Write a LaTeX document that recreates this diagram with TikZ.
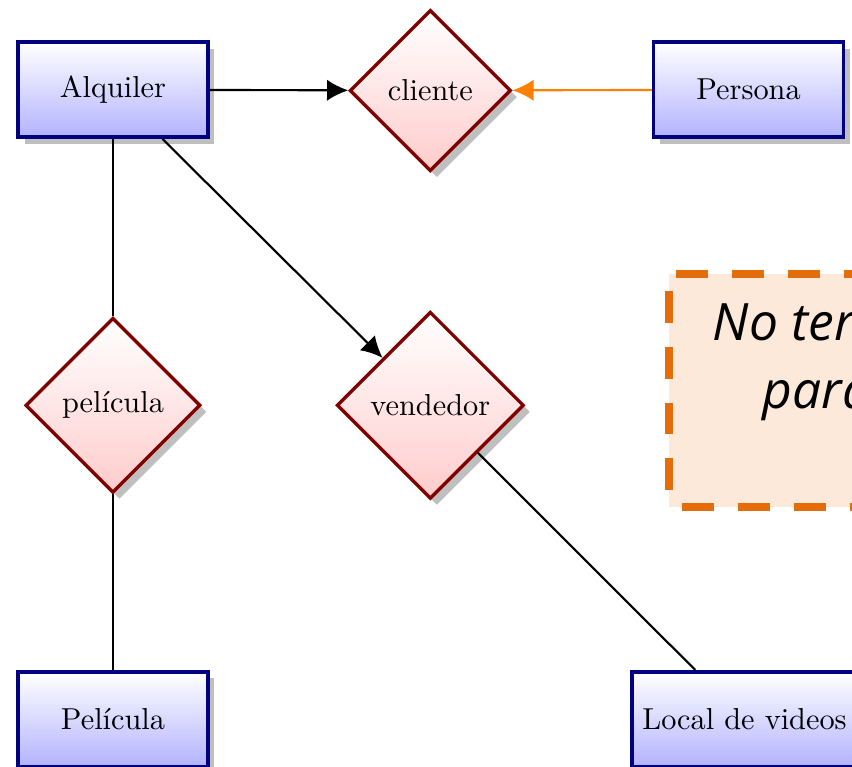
\documentclass[tikz,border=0pt]{standalone}
\usepackage{fontspec}
\newfontfamily\notefont{Open Sans}
\usetikzlibrary{shapes.geometric,shadows,positioning,arrows.meta}
\definecolor{noteline}{RGB}{228,108,10}
\definecolor{notefill}{RGB}{252,233,218}

\begin{document}
\begin{tikzpicture}[
    entity/.style={rectangle, draw=blue!50!black, line width=1.2pt, top color=white, bottom color=blue!30, drop shadow, minimum width=2.2cm, minimum height=1.1cm},
    relation/.style={diamond, draw=red!50!black, line width=1.1pt, top color=white, bottom color=red!20, drop shadow, inner sep=3.8pt, minimum size=1.87cm},
    link/.style={line width=0.7pt},
    notebox/.style={rectangle, fill=notefill, outer sep=0pt},
    noteborder/.style={draw=noteline, line width=2.6pt, dash pattern=on 10.5pt off 7.9pt, dash phase=12.8pt},
    notetext/.style={align=center, font=\notefont\itshape\fontsize{17}{22.4}\selectfont},
    >={Latex[length=7pt,width=7pt]}]
  \useasboundingbox (0,0) rectangle (9.88,-8.89);
  \clip (0,0) rectangle (9.88,-8.89);

  \node[entity] (alquiler) at (1.31,-1.04) {Alquiler};
  \node[relation] (cliente) at (4.99,-1.05) {cliente};
  \node[entity] (persona) at (8.68,-1.04) {Persona};
  \node[relation] (pelrel) at (1.31,-4.70) {película};
  \node[relation] (vendedor) at (4.99,-4.70) {vendedor};
  \node[entity] (pelicula) at (1.31,-8.34) {Película};
  \node[entity, anchor=west] (local) at (7.31,-8.34) {Local de videos};

  % nota
  \node[notebox, anchor=north west, minimum width=4.45cm, minimum height=2.7cm] (note) at (7.76,-3.18) {};
  \draw[noteborder] (note.south west) -- (note.north west) -- (note.north east) -- (note.south east) -- cycle;
  \node[notetext, below=0.19cm of note.north, xshift=0.12cm] (notetxt) {No terminado\\para hoy.};

  \draw[link,->] (alquiler) -- (cliente);
  \draw[link,->,orange] (persona) -- (cliente);
  \draw[link,->] (alquiler) -- (vendedor);
  \draw[link] (alquiler) -- (pelrel);
  \draw[link] (pelrel) -- (pelicula);
  \draw[link] (vendedor) -- (local);
\end{tikzpicture}
\end{document}
